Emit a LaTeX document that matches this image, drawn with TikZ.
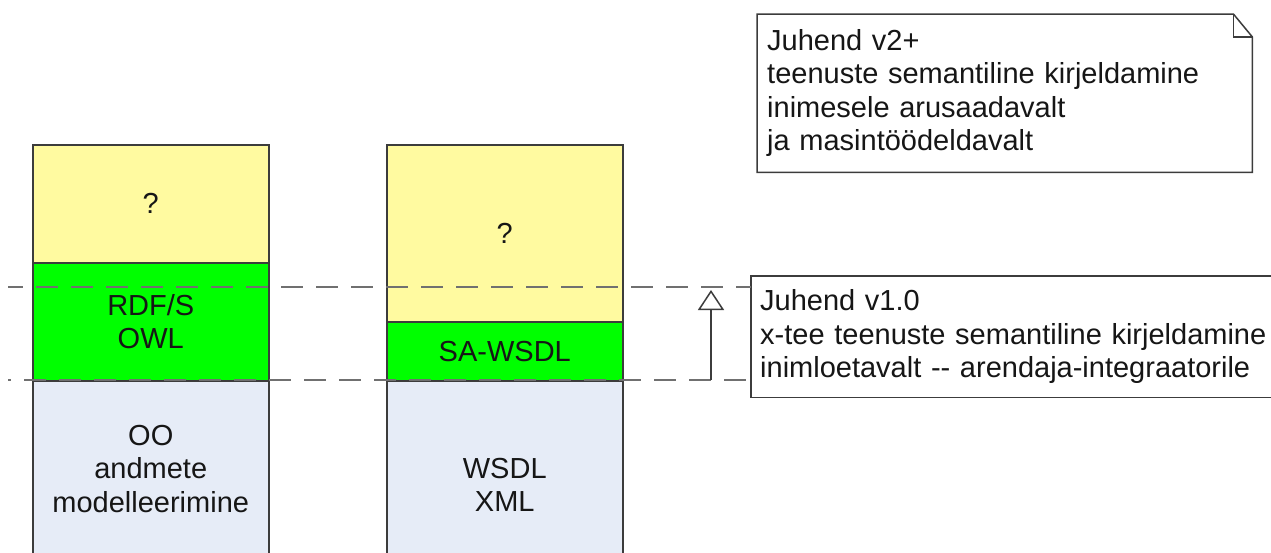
\documentclass[tikz,border=0pt]{standalone}
\usepackage{fontspec}
\setmainfont{Liberation Sans}
\usetikzlibrary{arrows.meta}

\definecolor{layeryellow}{RGB}{255,250,160}
\definecolor{layergreen}{RGB}{0,255,0}
\definecolor{layerblue}{RGB}{230,236,247}
\definecolor{edgegray}{RGB}{60,60,60}
\definecolor{dashgray}{RGB}{112,112,112}
\definecolor{inkblack}{RGB}{22,22,22}

\begin{document}
\begin{tikzpicture}[x=1pt, y=-1pt,
  every node/.style={font=\fontsize{29}{33.5}\selectfont, text=inkblack},
  layer/.style={draw=edgegray, line width=1.5pt, minimum width=236pt,
                inner sep=0pt, align=center, anchor=north west},
  notebox/.style={align=left, anchor=north west, inner ysep=0pt},
  noteframe/.style={draw=edgegray, line width=1.5pt, line join=miter},
  guide/.style={draw=dashgray, line width=2pt, dash pattern=on 22pt off 13pt},
  gen/.style={draw=edgegray, line width=1.5pt,
              -{Triangle[length=20pt, width=26pt, fill=white, line width=1.5pt]}},
]
\useasboundingbox[fill=white] (0,0) rectangle (1271,552);
\begin{scope}
\clip (0,0) rectangle (1271,552);

% left stack
\node[layer, fill=layeryellow, minimum height=118pt] (lq)   at (32,144) {?};
\node[layer, fill=layergreen,  minimum height=118pt] (lrdf) at (32,262) {RDF/S\\OWL};
\node[layer, fill=layerblue,   minimum height=176pt] (loo)  at (32,380) {OO\\andmete\\modelleerimine};

% right stack
\node[layer, fill=layeryellow, minimum height=177pt] (rq)  at (386,144) {?};
\node[layer, fill=layergreen,  minimum height=59pt]  (rsa) at (386,321) {SA-WSDL};
\node[layer, fill=layerblue,   minimum height=208pt] (rws) at (386,380) {WSDL\\XML};

% notes
\node[notebox, minimum width=495pt, minimum height=158pt, text width=475pt,
      inner xsep=10pt] (v2) at (757,14)
  {Juhend v2+\\teenuste semantiline kirjeldamine\\inimesele arusaadavalt\\ja masintöödeldavalt};
\draw[noteframe] (v2.north west) -- ([xshift=-19pt]v2.north east)
  -- ([yshift=-23pt]v2.north east) -- (v2.south east) -- (v2.south west) -- cycle;
\draw[noteframe] ([xshift=-19pt]v2.north east) |- ([yshift=-23pt]v2.north east);

\node[notebox, minimum height=121pt, text width=540pt, inner xsep=9pt] (v1) at (751,276)
  {Juhend v1.0\\x-tee teenuste semantiline kirjeldamine\\inimloetavalt -{}- arendaja-integraatorile};
\draw[noteframe] (v1.north west) rectangle (v1.south east);

% level guides
\coordinate (ustart) at (8,287);
\coordinate (lstart) at (8,380);
\draw[guide, dash phase=7pt]  (ustart) -- (ustart -| v1.west);
\draw[guide, dash phase=19pt] (lstart) -- (lstart -| v1.west);

% generalisation arrow between the two levels
\coordinate (abase) at (711,380);
\coordinate (atip)  at (711,290);
\draw[gen] (abase) -- (atip);
\end{scope}
\end{tikzpicture}
\end{document}
